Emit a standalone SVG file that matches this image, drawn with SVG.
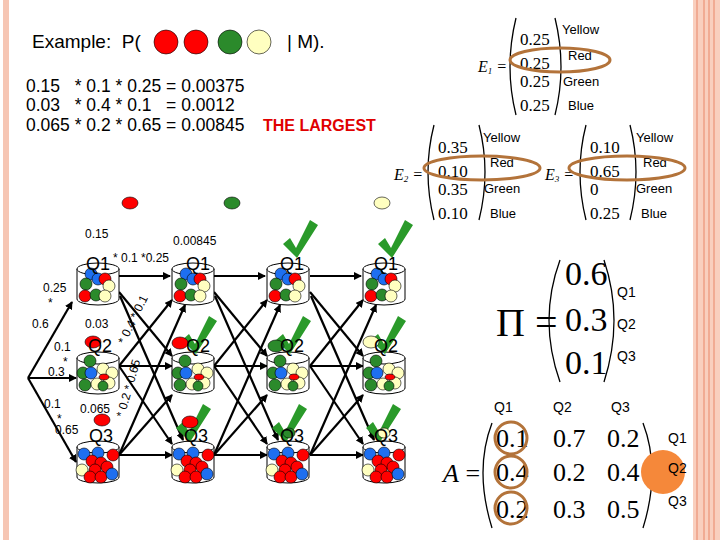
<svg xmlns="http://www.w3.org/2000/svg" width="720" height="540" viewBox="0 0 720 540">
<style>
text{white-space:pre}
.s{font-family:"Liberation Sans",Arial,sans-serif;fill:#000}
.m{font-family:"Liberation Serif","Times New Roman",serif;fill:#000}
.q{font-family:"Liberation Sans",Arial,sans-serif;font-size:18px}
.l{font-family:"Liberation Sans",Arial,sans-serif;font-size:12px}
.ln{stroke:#000;stroke-width:2.2;fill:none;marker-end:url(#ah)}
.par{stroke:#000;stroke-width:1.3;fill:none}
.ov{fill:none;stroke:#b3733a;stroke-width:3}
.b{stroke:#000;stroke-width:0.6}
.R{fill:#f00}.G{fill:#2b8a2b}.B{fill:#1e6ff0}.Y{fill:#ffffc0}
.ck{fill:#2a9a2a}
</style>
<defs>
<marker id="ah" markerWidth="8" markerHeight="8" refX="7" refY="4" orient="auto" markerUnits="userSpaceOnUse"><path d="M0,0 L8,4 L0,8 z" fill="#000"/></marker>
<g id="urn"><path d="M0,6 V36 A21,6 0 0 0 42,36 V6" fill="#fff" stroke="#000" stroke-width="1"/><ellipse cx="21" cy="6" rx="21" ry="6" fill="#fff" stroke="#000" stroke-width="1"/></g>
<g id="u1"><use href="#urn"/><g class="b"><circle class="B" cx="14" cy="11" r="6"/><circle class="B" cx="21" cy="16" r="6"/><circle class="R" cx="28" cy="16" r="6"/><circle class="G" cx="9" cy="21" r="6"/><circle class="Y" cx="32" cy="23" r="6"/><circle class="R" cx="8" cy="33" r="6"/><circle class="G" cx="19" cy="32" r="6"/><circle class="Y" cx="28" cy="33" r="6"/></g></g>
<g id="u2"><use href="#urn"/><g class="b"><circle class="G" cx="13" cy="9" r="6"/><circle class="Y" cx="26" cy="17" r="6"/><circle class="Y" cx="35" cy="21" r="6"/><circle class="G" cx="6" cy="21" r="6"/><circle class="B" cx="14" cy="21" r="6"/><circle class="G" cx="8" cy="33" r="6"/><circle class="Y" cx="20" cy="32" r="6"/><circle class="Y" cx="32" cy="31" r="6"/><ellipse class="R" cx="27" cy="25" rx="5" ry="3"/><circle class="G" cx="26" cy="34" r="5"/></g></g>
<g id="u3"><use href="#urn"/><g class="b"><circle class="B" cx="7" cy="13" r="6"/><circle class="B" cx="21" cy="12" r="6"/><circle class="R" cx="36" cy="14" r="6"/><circle class="R" cx="15" cy="20" r="6"/><circle class="R" cx="24" cy="22" r="6"/><circle class="R" cx="30" cy="26" r="6"/><circle class="Y" cx="5" cy="29" r="6"/><circle class="R" cx="18" cy="29" r="6"/><circle class="R" cx="13" cy="36" r="6"/><circle class="R" cx="24" cy="36" r="6"/><circle class="B" cx="35" cy="33" r="6"/></g></g>
<path id="chk" d="M0,12 L7,6 L13,16 L27,-12 L35,-7 L14,26 z"/>
</defs>
<rect width="720" height="540" fill="#fff"/>
<rect x="3" y="0" width="6" height="540" fill="#f6c6b4"/>
<rect x="693" y="0" width="27" height="540" fill="#f9cfbe"/>
<g stroke="#ee9f85" stroke-width="1.5"><line x1="697" y1="0" x2="697" y2="540"/><line x1="704" y1="0" x2="704" y2="540"/><line x1="709" y1="0" x2="709" y2="540"/><line x1="714" y1="0" x2="714" y2="540"/></g>

<g id="title">
<text class="s" x="32" y="48" font-size="19">Example:  P(</text>
<g class="b"><circle class="R" cx="166" cy="42" r="12"/><circle class="R" cx="196" cy="42" r="12"/><circle class="G" cx="230" cy="42" r="12"/><circle class="Y" cx="259" cy="42" r="12"/></g>
<text class="s" x="287" y="48" font-size="19">| M).</text>
<text class="s" x="26" y="92" font-size="17.5">0.15   * 0.1 * 0.25 = 0.00375</text>
<text class="s" x="26" y="111" font-size="17.5">0.03   * 0.4 * 0.1   = 0.0012</text>
<text class="s" x="26" y="131" font-size="17.5">0.065 * 0.2 * 0.65 = 0.00845</text>
<text class="s" x="263" y="131" font-size="16" font-weight="bold" style="fill:#e00000">THE LARGEST</text>
</g>

<g id="observations" class="b">
<ellipse class="R" cx="130" cy="203" rx="8" ry="6"/><ellipse class="G" cx="232" cy="203" rx="8" ry="6"/><ellipse class="Y" cx="382" cy="203" rx="8" ry="6"/>
</g>

<g id="connectors">
<line class="ln" x1="28" y1="378" x2="72" y2="302"/>
<line class="ln" x1="28" y1="378" x2="76" y2="378"/>
<line class="ln" x1="28" y1="378" x2="76" y2="462"/>
<g id="c1">
<line class="ln" x1="119" y1="276" x2="170" y2="276"/>
<line class="ln" x1="119" y1="292" x2="172" y2="356"/>
<line class="ln" x1="120" y1="296" x2="183" y2="440"/>
<line class="ln" x1="119" y1="366" x2="172" y2="300"/>
<line class="ln" x1="119" y1="366" x2="172" y2="366"/>
<line class="ln" x1="119" y1="366" x2="172" y2="444"/>
<line class="ln" x1="119" y1="455" x2="185" y2="305"/>
<line class="ln" x1="119" y1="455" x2="172" y2="395"/>
<line class="ln" x1="119" y1="455" x2="172" y2="455"/>
</g>
<use href="#c1" x="95"/>
<use href="#c1" x="191"/>
</g>

<g id="urns">
<use href="#u1" x="77" y="263"/><use href="#u2" x="77" y="352"/><use href="#u3" x="77" y="441"/>
<use href="#u1" x="172" y="263"/><use href="#u2" x="172" y="352"/><use href="#u3" x="172" y="441"/>
<use href="#u1" x="267" y="263"/><use href="#u2" x="267" y="352"/><use href="#u3" x="267" y="441"/>
<use href="#u1" x="363" y="263"/><use href="#u2" x="363" y="352"/><use href="#u3" x="363" y="441"/>
</g>

<g id="marks">
<g class="ck"><use href="#chk" x="283" y="232"/><use href="#chk" x="378" y="232"/>
<use href="#chk" x="182" y="328"/><use href="#chk" x="276" y="328"/><use href="#chk" x="371" y="328"/>
<use href="#chk" x="176" y="416"/><use href="#chk" x="272" y="416"/><use href="#chk" x="366" y="416"/></g>
<g class="b"><ellipse class="R" cx="93" cy="342" rx="8" ry="6"/><ellipse class="R" cx="102" cy="420" rx="8" ry="6"/>
<ellipse class="R" cx="180" cy="343" rx="8" ry="6"/><ellipse class="R" cx="190" cy="422" rx="8" ry="6"/>
<ellipse class="G" cx="276" cy="346" rx="8" ry="6"/><ellipse class="G" cx="289" cy="433" rx="6" ry="5"/>
<ellipse class="Y" cx="371" cy="342" rx="8" ry="6"/><ellipse class="Y" cx="384" cy="433" rx="6" ry="5"/></g>
</g>

<g id="qlabels" class="q">
<text x="86" y="270">Q1</text><text x="88" y="352">Q2</text><text x="89" y="442">Q3</text>
<text x="186" y="270">Q1</text><text x="186" y="352">Q2</text><text x="184" y="442">Q3</text>
<text x="280" y="270">Q1</text><text x="280" y="352">Q2</text><text x="280" y="442">Q3</text>
<text x="374" y="270">Q1</text><text x="374" y="352">Q2</text><text x="374" y="442">Q3</text>
</g>

<g id="numlabels" class="l">
<text x="85" y="238">0.15</text>
<text x="173" y="245">0.00845</text>
<text x="113" y="262">* 0.1 *0.25</text>
<text x="43" y="292">0.25</text><text x="48" y="307">*</text>
<text x="32" y="328">0.6</text><text x="85" y="328">0.03</text>
<text x="54" y="351">0.1</text><text x="63" y="366">*</text>
<text x="48" y="376">0.3</text>
<text x="44" y="408">0.1</text><text x="57" y="423">*</text>
<text x="80" y="413">0.065</text><text x="55" y="434">0.65</text>
<text transform="translate(125,345) rotate(-64)">* 0.4 * 0.1</text>
<text transform="translate(124,418) rotate(-74)">* 0.2 * 0.65</text>
</g>

<g id="E1">
<text class="m" x="478" y="72" font-size="16" font-style="italic">E<tspan font-size="9" dy="2">1</tspan><tspan dy="-2"> =</tspan></text>
<path class="par" d="M516,18 Q504,67 516,115"/><path class="par" d="M555,18 Q567,67 555,115"/>
<g class="m" font-size="17"><text x="520" y="45">0.25</text><text x="520" y="69">0.25</text><text x="520" y="87">0.25</text><text x="520" y="111">0.25</text></g>
<g class="s" font-size="13"><text x="562" y="34">Yellow</text><text x="568" y="60">Red</text><text x="563" y="86">Green</text><text x="568" y="110">Blue</text></g>
<ellipse class="ov" cx="560" cy="60" rx="50" ry="12"/>
</g>
<g id="E2">
<text class="m" x="394" y="180" font-size="16" font-style="italic">E<tspan font-size="9" dy="2">2</tspan><tspan dy="-2"> =</tspan></text>
<path class="par" d="M434,125 Q422,172 434,220"/><path class="par" d="M479,125 Q491,172 479,220"/>
<g class="m" font-size="17"><text x="438" y="153">0.35</text><text x="438" y="177">0.10</text><text x="438" y="195">0.35</text><text x="438" y="219">0.10</text></g>
<g class="s" font-size="13"><text x="483" y="142">Yellow</text><text x="490" y="167">Red</text><text x="484" y="193">Green</text><text x="490" y="218">Blue</text></g>
<ellipse class="ov" cx="482" cy="168" rx="58" ry="12"/>
</g>
<g id="E3">
<text class="m" x="545" y="180" font-size="16" font-style="italic">E<tspan font-size="9" dy="2">3</tspan><tspan dy="-2"> =</tspan></text>
<path class="par" d="M586,125 Q574,172 586,220"/><path class="par" d="M630,125 Q642,172 630,220"/>
<g class="m" font-size="17"><text x="590" y="153">0.10</text><text x="590" y="177">0.65</text><text x="590" y="195">0</text><text x="590" y="219">0.25</text></g>
<g class="s" font-size="13"><text x="636" y="142">Yellow</text><text x="643" y="167">Red</text><text x="636" y="193">Green</text><text x="641" y="218">Blue</text></g>
<ellipse class="ov" cx="627" cy="168" rx="58" ry="12"/>
</g>

<g id="Pi">
<text class="m" x="496" y="336" font-size="40">Π =</text>
<path class="par" d="M560,260 Q538,320 560,382"/><path class="par" d="M604,260 Q624,320 604,382"/>
<g class="m" font-size="34"><text x="565" y="285">0.6</text><text x="565" y="331">0.3</text><text x="565" y="374">0.1</text></g>
<g class="s" font-size="14"><text x="617" y="297">Q1</text><text x="617" y="329">Q2</text><text x="617" y="361">Q3</text></g>
</g>

<g id="A">
<g class="s" font-size="14"><text x="494" y="412">Q1</text><text x="553" y="412">Q2</text><text x="611" y="412">Q3</text></g>
<text class="m" x="443" y="482" font-size="26"><tspan font-style="italic">A</tspan> =</text>
<path class="par" d="M492,423 Q474,470 492,528"/><path class="par" d="M643,423 Q661,470 643,528"/>
<g class="m" font-size="26"><text x="496" y="447">0.1</text><text x="553" y="447">0.7</text><text x="607" y="447">0.2</text>
<text x="496" y="481">0.4</text><text x="553" y="481">0.2</text><text x="607" y="481">0.4</text>
<text x="496" y="518">0.2</text><text x="553" y="518">0.3</text><text x="607" y="518">0.5</text></g>
<g stroke="#b3733a" stroke-width="3" fill="none"><circle cx="511" cy="438" r="16"/><circle cx="511" cy="472" r="16"/><circle cx="511" cy="508" r="16"/></g>
<circle cx="663" cy="472" r="22" fill="#f5883a"/>
<g class="s" font-size="14"><text x="668" y="443">Q1</text><text x="668" y="473">Q2</text><text x="668" y="506">Q3</text></g>
</g>
</svg>
